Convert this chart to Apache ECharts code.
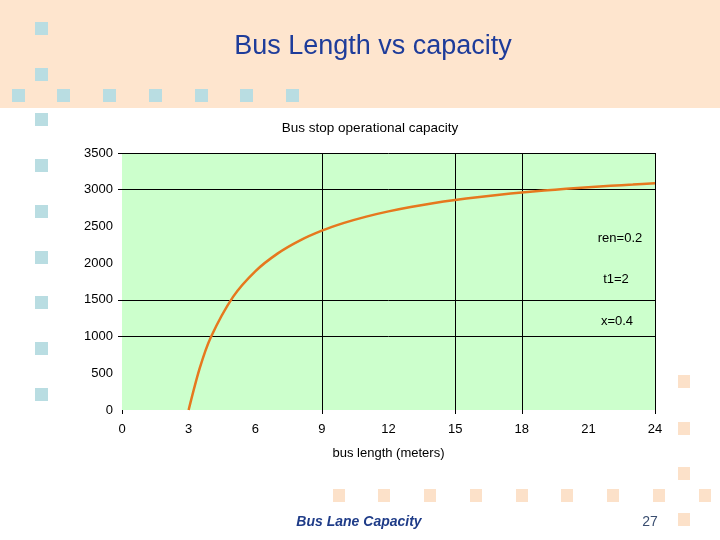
<!DOCTYPE html>
<html>
<head>
<meta charset="utf-8">
<script src="https://cdn.jsdelivr.net/npm/echarts@6/dist/echarts.min.js"></script>
<style>
html,body{margin:0;padding:0;background:#fff;}
#chart{width:720px;height:540px;}
</style>
</head>
<body>
<div id="chart"></div>
<script>
// Data
var busLength = [3, 3.5, 4, 5, 6, 7, 8, 9, 10, 11, 12, 13, 14, 15, 16, 17, 18, 19, 20, 21, 22, 23, 24];
var capacity  = [0, 570, 992, 1541, 1889, 2130, 2307, 2442, 2548, 2634, 2705, 2765, 2816, 2860, 2898, 2932, 2961, 2988, 3012, 3033, 3053, 3070, 3087];
var xTickValues = [0, 9, 15, 18, 24];
var yTickValues = [1000, 1500, 3000, 3500];
var notes = ['ren=0.2', 't1=2', 'x=0.4'];
var slideTitle = 'Bus Length vs capacity';
var chartTitle = 'Bus stop operational capacity';
var xName = 'bus length (meters)';
var footer = 'Bus Lane Capacity';
var pageNo = '27';

var FONT = '"Liberation Sans", Arial, sans-serif';
var blue = '#B9DDE2', peach = '#FCE1C9';
var graphics = [];
graphics.push({type:'rect', z:-10, silent:true, shape:{x:0,y:0,width:720,height:108}, style:{fill:'#FEE5CE'}});
var colY = [22, 68, 113, 159, 205, 251, 296, 342, 388];
colY.forEach(function(y){ graphics.push({type:'rect', z:-5, silent:true, shape:{x:35,y:y,width:13,height:13}, style:{fill:blue}}); });
var rowX = [12, 57, 103, 149, 195, 240, 286];
rowX.forEach(function(x){ graphics.push({type:'rect', z:-5, silent:true, shape:{x:x,y:89,width:13,height:13}, style:{fill:blue}}); });
var botX = [333, 378, 424, 470, 516, 561, 607, 653, 699];
botX.forEach(function(x){ graphics.push({type:'rect', z:-5, silent:true, shape:{x:x,y:489,width:12,height:13}, style:{fill:peach}}); });
var rightY = [375, 422, 467, 513];
rightY.forEach(function(y){ graphics.push({type:'rect', z:-5, silent:true, shape:{x:678,y:y,width:12,height:13}, style:{fill:peach}}); });

graphics.push({type:'text', x:373, y:47, silent:true, style:{text:slideTitle, fill:'#1E3C9A', font:'27px ' + FONT, align:'center', verticalAlign:'middle'}});
graphics.push({type:'text', x:359, y:522, silent:true, style:{text:footer, fill:'#1F3C88', font:'italic bold 14px ' + FONT, align:'center', verticalAlign:'middle'}});
graphics.push({type:'text', x:650, y:522, silent:true, style:{text:pageNo, fill:'#3A4E70', font:'14px ' + FONT, align:'center', verticalAlign:'middle'}});
var noteY = [238, 279, 321];
var noteX = [620, 616, 617];
notes.forEach(function(t, i){
  graphics.push({type:'text', x:noteX[i], y:noteY[i], silent:true, z:10, style:{text:t, fill:'#000', font:'13px ' + FONT, align:'center', verticalAlign:'middle'}});
});

var chart = echarts.init(document.getElementById('chart'));
chart.setOption({
  backgroundColor: '#fff',
  animation: false,
  title: {
    text: chartTitle, left: 365, top: 116, textAlign: 'center',
    textStyle: {fontFamily: FONT, fontSize: 13.5, fontWeight: 'normal', color: '#000'}
  },
  grid: {
    left: 122, right: 65, top: 153, bottom: 130,
    show: true, backgroundColor: '#CCFFCC', borderWidth: 0
  },
  xAxis: {
    type: 'value', min: 0, max: 24, interval: 3,
    name: xName, nameLocation: 'middle', nameGap: 37,
    nameTextStyle: {fontFamily: FONT, fontSize: 13, color: '#000'},
    axisLine: {show: false},
    axisTick: {show: true, length: 4, customValues: xTickValues, lineStyle: {color: '#000'}},
    axisLabel: {fontFamily: FONT, fontSize: 13, color: '#000', margin: 13},
    splitLine: {show: true, showMinLine: false, lineStyle: {color: '#000', width: 1}}
  },
  yAxis: {
    type: 'value', min: 0, max: 3500, interval: 500,
    axisLine: {show: false},
    axisTick: {show: true, length: 4, customValues: yTickValues, lineStyle: {color: '#000'}},
    axisLabel: {fontFamily: FONT, fontSize: 13, color: '#000', margin: 9,
      formatter: function(v){ return String(v); }},
    splitLine: {show: true, lineStyle: {color: '#000', width: 1}}
  },
  series: [{
    type: 'line',
    data: busLength.map(function(x, i){ return [x, capacity[i]]; }),
    showSymbol: false,
    smooth: 0.3,
    lineStyle: {color: '#E6781E', width: 2.5},
    z: 5
  }],
  graphic: graphics
});
</script>
</body>
</html>
